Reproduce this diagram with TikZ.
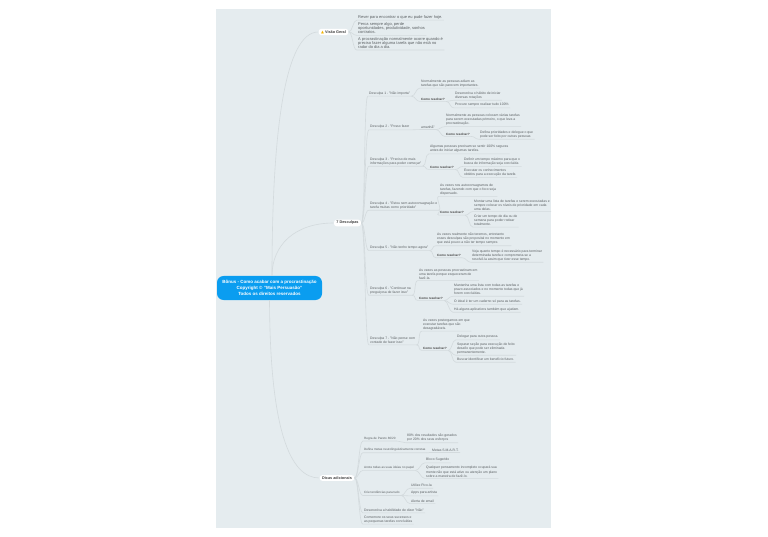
\documentclass[tikz,border=0pt]{standalone}
\usepackage{fontspec}
\setmainfont{Liberation Sans}
\newfontfamily\symfont{DejaVu Sans}
\definecolor{panelc}{HTML}{E5ECEF}
\definecolor{linkc}{HTML}{D3DADD}
\definecolor{txtc}{HTML}{5A5F62}
\definecolor{rootc}{HTML}{0A9DF0}
\definecolor{iconc}{HTML}{F2B400}
\tikzset{
 txt/.style={anchor=west,xshift=-1.2pt,inner xsep=1.2pt,inner ysep=1.1pt,align=left,text=txtc,font=\fontsize{3.4}{4.05}\selectfont},
 top/.style={txt,font=\fontsize{4}{4.05}\selectfont},
 res/.style={txt,font=\fontsize{3.1}{4}\selectfont\bfseries,text=black!75},
 pill/.style={draw=none,fill=white,rounded corners=3pt,inner xsep=2.5pt,inner ysep=1.6pt,text=black!75,font=\fontsize{3.8}{4}\selectfont\bfseries},
 rootn/.style={fill=rootc,draw=none,rounded corners=6.5pt,text=white,align=center,font=\fontsize{4.5}{6.3}\selectfont\bfseries,minimum width=105pt,minimum height=24pt,inner sep=0pt},
 lnk/.style={draw=linkc,line width=.6pt}
}
\newcommand{\lk}[2]{\draw[lnk] (#1.south east) .. controls +(4,0) and +(-4,0) .. (#2.south west) -- (#2.south east);}
\newcommand{\lkp}[2]{\draw[lnk] (#1.east) .. controls +(4,0) and +(-4,0) .. (#2.south west) -- (#2.south east);}
\begin{document}
\begin{tikzpicture}[x=1pt,y=-1pt]
\useasboundingbox (0,0) rectangle (768,537);
\fill[white] (0,0) rectangle (768,537);
\fill[panelc] (216,9) rectangle (551,528);
% top branch nodes
\node[top] (v1) at (358,17) {Rever para encontrar o que eu pude fazer hoje.};
\node[top] (v2) at (358,28.5) {Perca sempre algo, perde\\oportunidades, produtividade, sonhos\\contratos.};
\node[top] (v3) at (358,43.2) {A procrastinação normalmente ocorre quando é\\preciso fazer alguma tarefa que não está no\\radar do dia a dia.};
% D1
\node[txt] (d1) at (369,93.3) {Desculpa 1 - "Não importa"};
\node[txt] (d1a) at (421,83.2) {Normalmente as pessoas adiam as\\tarefas que são parecem importantes.};
\node[res] (d1b) at (421,99) {Como resolver?};
\node[txt] (d1b1) at (455,95.3) {Desenvolva o hábito de iniciar\\diversas rotações};
\node[txt] (d1b2) at (455,105) {Procure sempre realizar tudo 100\%};
% D2
\node[txt] (d2) at (370,127) {Desculpa 2 - "Posso fazer};
\node[txt] (d2m) at (421,127) {amanhã"};
\node[txt] (d2a) at (446,119.7) {Normalmente as pessoas colocam várias tarefas\\para serem executadas primeiro, o que leva a\\procrastinação.};
\node[res] (d2b) at (446,134) {Como resolver?};
\node[txt] (d2b1) at (480,134.3) {Defina prioridades e delegue o que\\pode ser feito por outras pessoas};
% D3
\node[txt] (d3) at (370,161.3) {Desculpa 3 - "Preciso de mais\\informações para poder começar"};
\node[txt] (d3a) at (430,148.9) {Algumas pessoas precisam se sentir 100\% seguras\\antes de iniciar algumas tarefas.};
\node[res] (d3b) at (430,167) {Como resolver?};
\node[txt] (d3b1) at (464,161.5) {Definir um tempo máximo para que o\\busca de informação seja concluída};
\node[txt] (d3b2) at (464,172.5) {Executar os conhecimentos\\obtidos para a execução da tarefa};
% D4
\node[txt] (d4) at (370,205.3) {Desculpa 4 - "Estou sem autoconsagração e\\tarefa muitas como prioridade"};
\node[txt] (d4a) at (440,189.5) {As vezes nos autoconsagramos de\\tarefas, fazendo com que o foco seja\\dispersado.};
\node[res] (d4b) at (440,212.7) {Como resolver?};
\node[txt] (d4b1) at (474,205) {Montar uma lista de tarefas e serem executadas e\\sempre colocar os níveis de prioridade em cada\\uma delas.};
\node[txt] (d4b2) at (474,220.5) {Criar um tempo de dia ou de\\semana para poder rodear\\totalmente.};
% D5
\node[txt] (d5) at (370,247.7) {Desculpa 5 - "Não tenho tempo agora"};
\node[txt] (d5a) at (437,238.8) {As vezes realmente não teremos, entretanto\\esses desculpas são proposital no momento em\\que está pouco a não ter tempo sempre.};
\node[res] (d5b) at (437,255.3) {Como resolver?};
\node[txt] (d5b1) at (472,255.3) {Veja quanto tempo é necessário para terminar\\determinada tarefa e comprometa-se a\\resolvê-la assim que tiver esse tempo.};
% D6
\node[txt] (d6) at (370,290.3) {Desculpa 6 - "Continuar na\\preguiçosa de fazer isso"};
\node[txt] (d6a) at (419,274) {As vezes as pessoas procrastinam em\\uma tarefa porque esqueceram de\\fazê-la.};
\node[res] (d6b) at (419,298) {Como resolver?};
\node[txt] (d6b1) at (454,289.7) {Mantenha uma lista com todas as tarefas e\\prazo associados e no momento todas que já\\forem concluídas.};
\node[txt] (d6b2) at (454,301.3) {O ideal é ter um caderno só para as tarefas.};
\node[txt] (d6b3) at (454,309.3) {Há alguns aplicativos também que ajudam.};
% D7
\node[txt] (d7) at (370,340.3) {Desculpa 7 - "Não pense com\\vontade de fazer isso"};
\node[txt] (d7a) at (423,324.3) {As vezes postergamos em que\\executar tarefas que são\\desagradáveis.};
\node[res] (d7b) at (423,348) {Como resolver?};
\node[txt] (d7b1) at (457,337) {Delegar para outra pessoa.};
\node[txt] (d7b2) at (457,348.3) {Separar seção para execução de feito\\desafio que pode ser eliminada\\permanentemente.};
\node[txt] (d7b3) at (457,359.7) {Buscar identificar um benefício futuro.};
% Dicas
\node[txt,font=\fontsize{3.1}{4.05}\selectfont] (t1) at (364,438.3) {Regra de Pareto 80/20};
\node[txt] (t1a) at (407,437.8) {80\% dos resultados são gerados\\por 20\% dos seus esforços};
\node[txt,font=\fontsize{3.1}{4.05}\selectfont] (t2) at (364,450) {Defina metas neurolinguisticamente corretas};
\node[txt] (t2a) at (432,450) {Metas S.M.A.R.T.};
\node[txt,font=\fontsize{3.1}{4.05}\selectfont] (t3) at (364,467.7) {Anote todas as suas ideias no papel};
\node[txt] (t3a) at (426,460) {Bloco Sugerido};
\node[txt] (t3b) at (426,471.8) {Qualquer pensamento incompleto ocupará sua\\mente não que está ativo ou atenção um plano\\sobre a maneira de fazê-lo.};
\node[txt,font=\fontsize{3.1}{4.05}\selectfont] (t4) at (364,492.7) {Crie tendências para tudo};
\node[txt] (t4a) at (411,485.7) {Utilize Pico-la};
\node[txt] (t4b) at (411,493) {Apps para artista};
\node[txt] (t4c) at (411,501) {Alerta de email};
\node[txt] (t5) at (364,510.3) {Desenvolva a habilidade de dizer "Não"};
\node[txt] (t6) at (364,519.2) {Comemore os seus sucessos e\\as pequenas tarefas concluídas};
% main nodes
\node[rootn] (root) at (269.5,288) {Bônus - Como acabar com a procrastinação\\Copyright © "Mais Persuasão"\\Todos os direitos reservados};
\node[pill] (vis) at (333.5,32) {{\symfont\textcolor{iconc}{▲}} Visão Geral};
\node[pill] (des) at (347.5,223) {7 Desculpas};
\node[pill] (dic) at (337,478) {Dicas adicionais};
% connectors
\draw[lnk] ([xshift=2.5pt]root.north) .. controls (272,130) and (285,32) .. (vis.west);
\draw[lnk] ([xshift=2.5pt]root.north) .. controls (272,245) and (295,223) .. (des.west);
\draw[lnk] (root.south) .. controls (270,430) and (290,478) .. (dic.west);
\lkp{vis}{v1}\lkp{vis}{v2}\lkp{vis}{v3}
\lkp{des}{d1}\lkp{des}{d2}\lkp{des}{d3}\lkp{des}{d4}\lkp{des}{d5}\lkp{des}{d6}\lkp{des}{d7}
\lk{d1}{d1a}\lk{d1}{d1b}\lk{d1b}{d1b1}\lk{d1b}{d1b2}
\lk{d2}{d2m}\lk{d2m}{d2a}\lk{d2m}{d2b}\lk{d2b}{d2b1}
\lk{d3}{d3a}\lk{d3}{d3b}\lk{d3b}{d3b1}\lk{d3b}{d3b2}
\lk{d4}{d4a}\lk{d4}{d4b}\lk{d4b}{d4b1}\lk{d4b}{d4b2}
\lk{d5}{d5a}\lk{d5}{d5b}\lk{d5b}{d5b1}
\lk{d6}{d6a}\lk{d6}{d6b}\lk{d6b}{d6b1}\lk{d6b}{d6b2}\lk{d6b}{d6b3}
\lk{d7}{d7a}\lk{d7}{d7b}\lk{d7b}{d7b1}\lk{d7b}{d7b2}\lk{d7b}{d7b3}
\lkp{dic}{t1}\lkp{dic}{t2}\lkp{dic}{t3}\lkp{dic}{t4}\lkp{dic}{t5}\lkp{dic}{t6}
\lk{t1}{t1a}\lk{t2}{t2a}\lk{t3}{t3a}\lk{t3}{t3b}\lk{t4}{t4a}\lk{t4}{t4b}\lk{t4}{t4c}
\end{tikzpicture}
\end{document}
